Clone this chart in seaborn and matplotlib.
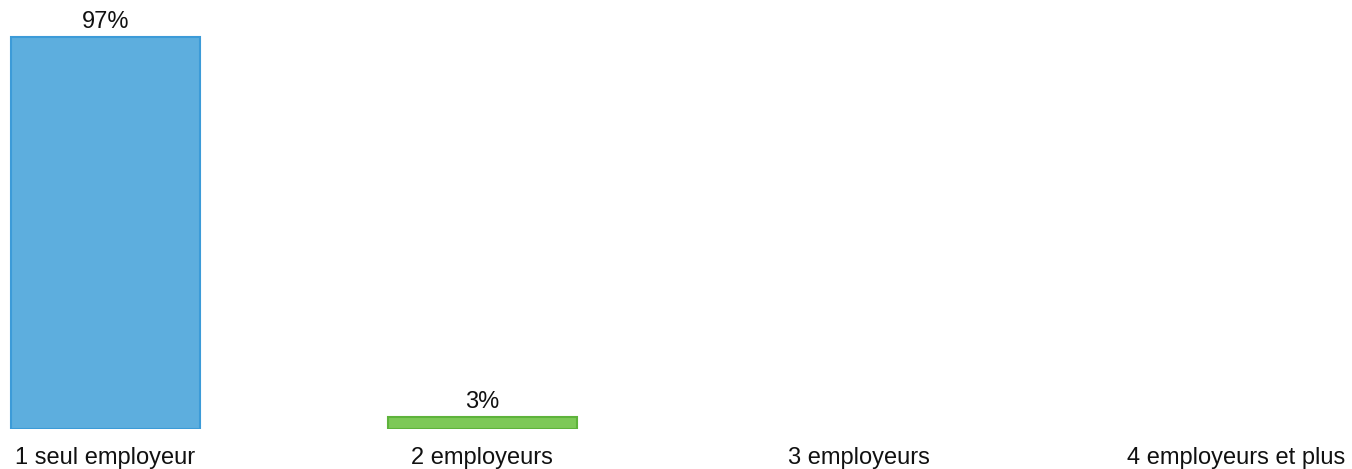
import pandas as pd
import seaborn as sns
import matplotlib.pyplot as plt

# Data
categories = ['1 seul employeur', '2 employeurs', '3 employeurs', '4 employeurs et plus']
values = [97, 3, 0, 0]
labels = ['97%', '3%', '', '']
fill_colors = ['#5DAEDE', '#7DC957', '#FFFFFF', '#FFFFFF']
edge_colors = ['#3C9BD8', '#5EB33B', '#FFFFFF', '#FFFFFF']

df = pd.DataFrame({'cat': categories, 'val': values})

sns.set_style('white')
plt.rcParams['font.family'] = ['Liberation Sans', 'DejaVu Sans']

fig = plt.figure(figsize=(13.52, 4.69), dpi=100)
ax = fig.add_axes([0, 40 / 469, 1, 429 / 469])

sns.barplot(data=df, x='cat', y='val', hue='cat', palette=fill_colors,
            width=0.5, legend=False, ax=ax, saturation=1)

for patch, ec, v in zip(ax.patches, edge_colors, values):
    if v > 0:
        patch.set_edgecolor(ec)
        patch.set_linewidth(1.5)
    else:
        patch.set_visible(False)

for i, (v, lab) in enumerate(zip(values, labels)):
    if lab:
        ax.text(i, v + 1.0, lab, ha='center', va='bottom', fontsize=17, color='#111111')

ax.set_xlim(-0.28, 3.308)
ax.set_ylim(0, 106.2)
ax.set_yticks([])
ax.set_xlabel('')
ax.set_ylabel('')
ax.tick_params(axis='x', length=0, labelsize=17, pad=13, colors='#111111')
sns.despine(ax=ax, left=True, bottom=True, top=True, right=True)

fig.savefig('out.png', dpi=100)
